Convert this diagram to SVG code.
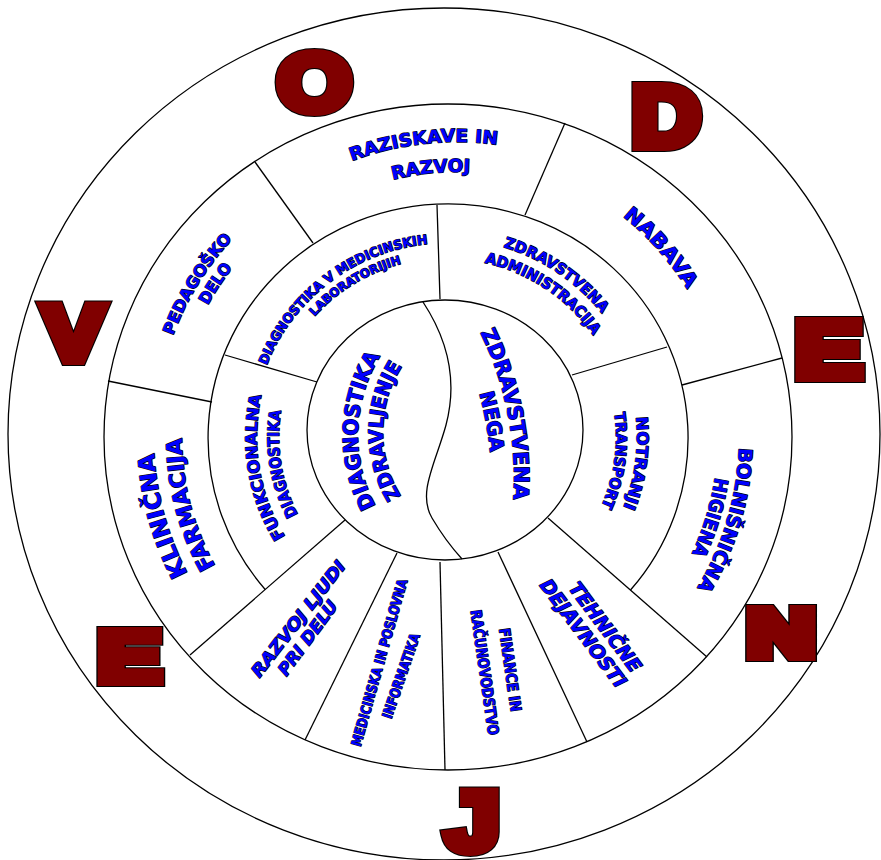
<svg xmlns="http://www.w3.org/2000/svg" width="881" height="860" viewBox="0 0 881 860">
<style>
.ln{fill:none;stroke:#000;stroke-width:1.3}
.rg{fill:#fff;stroke:#000;stroke-width:1.3}
.lb{font-family:"DejaVu Sans","Liberation Sans",sans-serif;font-weight:bold;fill:#0000ff;stroke:#000;stroke-width:1.3;paint-order:stroke fill;stroke-linejoin:round;text-anchor:middle}
.it{font-style:italic}
.big{font-family:"Liberation Sans",Arial,sans-serif;font-weight:bold;text-anchor:middle}
.bk{fill:#000;stroke:#000;stroke-width:12;stroke-linejoin:miter}
.mr{fill:#800000;stroke:#800000;stroke-width:10;stroke-linejoin:miter}
</style>
<defs>
<path id="p1" d="M182.1,321.9 A300,300 0 0 1 698.5,264.0"/>
<path id="p2" d="M211.3,330.0 A270,270 0 0 1 676.8,285.2"/>
<path id="p3" d="M390.8,160.7 A282,282 0 0 1 714.4,526.5"/>
<path id="p4" d="M659.2,236.4 A292,292 0 0 1 514.7,721.1"/>
<path id="p5" d="M645.2,252.2 A271,271 0 0 1 508.0,701.1"/>
<path id="p6" d="M373.6,720.7 A293,293 0 0 1 238.0,231.6"/>
<path id="p7" d="M377.1,692.6 A265,265 0 0 1 260.6,248.6"/>
<path id="p8" d="M190.4,576.3 A292,292 0 0 1 454.6,145.1"/>
<path id="p9" d="M202.7,558.8 A273,273 0 0 1 463.7,164.5"/>
<path id="p10" d="M254.5,460.6 A194,194 0 0 1 522.8,258.4"/>
<path id="p11" d="M268.0,440.7 A179,179 0 0 1 533.2,280.1"/>
<path id="p12" d="M360.2,259.0 A198,198 0 0 1 644.5,450.8"/>
<path id="p13" d="M368.1,277.4 A178,178 0 0 1 624.6,448.5"/>
<path id="p14" d="M563.7,287.1 A190,190 0 0 1 518.5,613.0"/>
<path id="p15" d="M551.1,303.8 A169,169 0 0 1 510.3,593.7"/>
<path id="p16" d="M380.5,615.0 A190,190 0 0 1 326.1,290.4"/>
<path id="p17" d="M387.6,594.1 A168,168 0 0 1 340.6,307.0"/>
<path id="p18" d="M429.2,562.6 A150,150 0 0 1 436.9,302.9"/>
<path id="p19" d="M443.1,537.1 A122,122 0 0 1 444.9,325.8"/>
<path id="p20" d="M432.3,260.6 A330,330 0 0 1 496.4,584.4"/>
<path id="p21" d="M417.8,279.0 A307,307 0 0 1 473.2,581.0"/>
<text id="tO" class="big" font-size="80" transform="translate(314.5,110) scale(1.18,1)">O</text>
<text id="tD" class="big" font-size="85" transform="translate(666,146) scale(1.12,1)">D</text>
<text id="tE1" class="big" font-size="80" transform="translate(828.5,377) scale(1.26,1)">E</text>
<text id="tN" class="big" font-size="67" transform="translate(781,656) scale(1.4,1)">N</text>
<text id="tJ" class="big" font-size="84" transform="translate(472.5,850) scale(1.15,1)">J</text>
<text id="tE2" class="big" font-size="71" transform="translate(129.5,681) scale(1.33,1)">E</text>
<text id="tV" class="big" font-size="78" transform="translate(73.5,360) scale(1.16,1)">V</text>
</defs>
<rect width="881" height="860" fill="#fff"/>
<g id="rings">
<ellipse class="rg" cx="444" cy="434" rx="436" ry="426"/>
<ellipse class="rg" cx="448" cy="437" rx="344" ry="333"/>
<path class="ln" d="M265.2,589.5 A240,234 0 1 1 630.5,590"/>
<ellipse class="rg" cx="445" cy="430" rx="138" ry="130"/>
</g>
<g id="connectors">
<line class="ln" x1="255" y1="162" x2="313" y2="243"/>
<line class="ln" x1="565" y1="123" x2="525" y2="215"/>
<line class="ln" x1="782" y1="358" x2="682" y2="385"/>
<line class="ln" x1="108" y1="381" x2="212" y2="402"/>
<line class="ln" x1="190" y1="655" x2="345" y2="520"/>
<line class="ln" x1="305" y1="740" x2="397" y2="553"/>
<line class="ln" x1="445" y1="770" x2="440" y2="562"/>
<line class="ln" x1="587" y1="742" x2="498" y2="552"/>
<line class="ln" x1="707" y1="657" x2="548" y2="518"/>
<line class="ln" x1="225" y1="355" x2="317" y2="382"/>
<line class="ln" x1="437" y1="205" x2="440" y2="299"/>
<line class="ln" x1="572" y1="375" x2="667" y2="347"/>
<path class="ln" d="M423,302 C448,340 458,380 446,425 C436,462 417,493 432,518 C442,535 452,548 462,559"/>
</g>
<g id="seg-raziskave">
<text class="lb" font-size="18"><textPath href="#p1" startOffset="50%" textLength="148" lengthAdjust="spacingAndGlyphs">RAZISKAVE IN</textPath></text>
<text class="lb" font-size="18"><textPath href="#p2" startOffset="50%" textLength="78" lengthAdjust="spacingAndGlyphs">RAZVOJ</textPath></text>
</g>
<g id="seg-nabava">
<text class="lb" font-size="20"><textPath href="#p3" startOffset="50%" textLength="98" lengthAdjust="spacingAndGlyphs">NABAVA</textPath></text>
</g>
<g id="seg-bolnisnicna">
<text class="lb" font-size="19"><textPath href="#p4" startOffset="50%" textLength="148" lengthAdjust="spacingAndGlyphs">BOLNIŠNIČNA</textPath></text>
<text class="lb" font-size="19"><textPath href="#p5" startOffset="50%" textLength="80" lengthAdjust="spacingAndGlyphs">HIGIENA</textPath></text>
</g>
<g id="seg-klinicna">
<text class="lb" font-size="23"><textPath href="#p6" startOffset="50%" textLength="126" lengthAdjust="spacingAndGlyphs">KLINIČNA</textPath></text>
<text class="lb" font-size="22"><textPath href="#p7" startOffset="50%" textLength="134" lengthAdjust="spacingAndGlyphs">FARMACIJA</textPath></text>
</g>
<g id="seg-pedagosko">
<text class="lb" font-size="16"><textPath href="#p8" startOffset="50%" textLength="114" lengthAdjust="spacingAndGlyphs">PEDAGOŠKO</textPath></text>
<text class="lb" font-size="16"><textPath href="#p9" startOffset="50%" textLength="45" lengthAdjust="spacingAndGlyphs">DELO</textPath></text>
</g>
<g id="seg-laboratoriji">
<text class="lb" font-size="13"><textPath href="#p10" startOffset="50%" textLength="212" lengthAdjust="spacingAndGlyphs">DIAGNOSTIKA V MEDICINSKIH</textPath></text>
<text class="lb" font-size="12"><textPath href="#p11" startOffset="50%" textLength="103" lengthAdjust="spacingAndGlyphs">LABORATORIJIH</textPath></text>
</g>
<g id="seg-administracija">
<text class="lb" font-size="15"><textPath href="#p12" startOffset="50%" textLength="121" lengthAdjust="spacingAndGlyphs">ZDRAVSTVENA</textPath></text>
<text class="lb" font-size="15"><textPath href="#p13" startOffset="50%" textLength="134" lengthAdjust="spacingAndGlyphs">ADMINISTRACIJA</textPath></text>
</g>
<g id="seg-transport">
<text class="lb" font-size="16"><textPath href="#p14" startOffset="50%" textLength="92" lengthAdjust="spacingAndGlyphs">NOTRANJI</textPath></text>
<text class="lb" font-size="15"><textPath href="#p15" startOffset="50%" textLength="96" lengthAdjust="spacingAndGlyphs">TRANSPORT</textPath></text>
</g>
<g id="seg-funkcionalna">
<text class="lb" font-size="16"><textPath href="#p16" startOffset="50%" textLength="147" lengthAdjust="spacingAndGlyphs">FUNKCIONALNA</textPath></text>
<text class="lb" font-size="16"><textPath href="#p17" startOffset="50%" textLength="107" lengthAdjust="spacingAndGlyphs">DIAGNOSTIKA</textPath></text>
</g>
<g id="seg-diagnostika-zdravljenje">
<text class="lb" font-size="21"><textPath href="#p18" startOffset="50%" textLength="157" lengthAdjust="spacingAndGlyphs">DIAGNOSTIKA</textPath></text>
<text class="lb" font-size="20"><textPath href="#p19" startOffset="50%" textLength="137" lengthAdjust="spacingAndGlyphs">ZDRAVLJENJE</textPath></text>
</g>
<g id="seg-zdravstvena-nega">
<text class="lb" font-size="21"><textPath href="#p20" startOffset="50%" textLength="172" lengthAdjust="spacingAndGlyphs">ZDRAVSTVENA</textPath></text>
<text class="lb" font-size="20"><textPath href="#p21" startOffset="50%" textLength="60" lengthAdjust="spacingAndGlyphs">NEGA</textPath></text>
</g>
<g id="seg-razvoj-ljudi">
<text class="lb it" font-size="17" transform="translate(303,622.5) rotate(-52.2)" textLength="142" lengthAdjust="spacingAndGlyphs">RAZVOJ LJUDI</text>
<text class="lb it" font-size="17" transform="translate(312.5,641.5) rotate(-53.6)" textLength="88" lengthAdjust="spacingAndGlyphs">PRI DELU</text>
</g>
<g id="seg-informatika">
<text class="lb" font-size="14" transform="translate(384,663.9) rotate(-74.2)" textLength="173" lengthAdjust="spacingAndGlyphs">MEDICINSKA IN POSLOVNA</text>
<text class="lb" font-size="14" transform="translate(405.7,677.5) rotate(-70.9)" textLength="89" lengthAdjust="spacingAndGlyphs">INFORMATIKA</text>
</g>
<g id="seg-finance">
<text class="lb" font-size="15" transform="translate(505,670.7) rotate(81.9)" textLength="84" lengthAdjust="spacingAndGlyphs">FINANCE IN</text>
<text class="lb" font-size="15" transform="translate(479.5,673.2) rotate(81.9)" textLength="126" lengthAdjust="spacingAndGlyphs">RAČUNOVODSTVO</text>
</g>
<g id="seg-tehnicne">
<text class="lb it" font-size="19" transform="translate(600,631) rotate(53.1)" textLength="107" lengthAdjust="spacingAndGlyphs">TEHNIČNE</text>
<text class="lb it" font-size="19" transform="translate(578,637.3) rotate(53.1)" textLength="130" lengthAdjust="spacingAndGlyphs">DEJAVNOSTI</text>
</g>
<g id="letters">
<use href="#tO" class="bk"/><use href="#tO" class="mr"/>
<use href="#tD" class="bk"/><use href="#tD" class="mr"/>
<use href="#tE1" class="bk"/><use href="#tE1" class="mr"/>
<use href="#tN" class="bk"/><use href="#tN" class="mr"/>
<use href="#tJ" class="bk"/><use href="#tJ" class="mr"/>
<use href="#tE2" class="bk"/><use href="#tE2" class="mr"/>
<use href="#tV" class="bk"/><use href="#tV" class="mr"/>
</g>
</svg>
